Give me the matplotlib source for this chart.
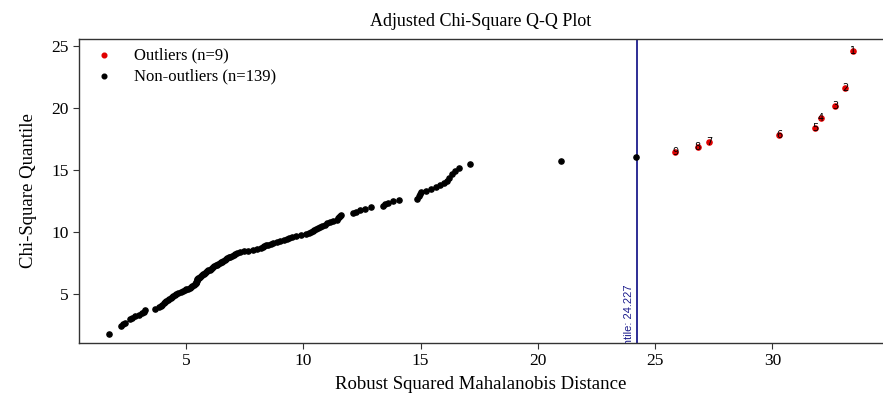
import matplotlib.pyplot as plt
import numpy as np

# robuste Distanz (x) und Chi-Quadrat-Quantil (y)
dist_in = [1.72, 2.25, 2.32, 2.42, 2.62, 2.70, 2.82, 2.99, 3.11, 3.20,
           3.26, 3.70, 3.84, 3.92, 3.99, 4.05, 4.11, 4.16, 4.22, 4.28,
           4.34, 4.39, 4.46, 4.52, 4.58, 4.66, 4.78, 4.88, 4.95, 5.01,
           5.08, 5.15, 5.21, 5.27, 5.33, 5.38, 5.41, 5.43, 5.44, 5.45,
           5.46, 5.47, 5.50, 5.56, 5.61, 5.65, 5.69, 5.73, 5.78, 5.83,
           5.87, 5.91, 5.96, 6.01, 6.06, 6.11, 6.16, 6.21, 6.28, 6.33,
           6.38, 6.43, 6.49, 6.54, 6.59, 6.65, 6.70, 6.77, 6.83, 6.89,
           6.97, 7.04, 7.11, 7.19, 7.31, 7.47, 7.66, 7.86, 8.04, 8.18,
           8.27, 8.34, 8.41, 8.50, 8.62, 8.71, 8.86, 9.01, 9.16, 9.29,
           9.41, 9.53, 9.70, 9.90, 10.10, 10.24, 10.33, 10.41, 10.47, 10.54,
           10.62, 10.70, 10.80, 10.92, 11.02, 11.12, 11.27, 11.43, 11.48, 11.52,
           11.55, 11.60, 12.10, 12.27, 12.40, 12.62, 12.90, 13.38, 13.48, 13.62,
           13.82, 14.10, 14.85, 14.92, 14.97, 15.01, 15.25, 15.46, 15.64, 15.82,
           16.00, 16.12, 16.23, 16.35, 16.46, 16.65, 17.09, 21.00, 24.19]
quant_in = [1.80, 2.40, 2.55, 2.70, 2.95, 3.05, 3.20, 3.33, 3.45, 3.58,
            3.70, 3.82, 3.93, 4.04, 4.15, 4.25, 4.34, 4.43, 4.52, 4.61,
            4.69, 4.77, 4.85, 4.93, 5.01, 5.08, 5.16, 5.23, 5.30, 5.37,
            5.44, 5.51, 5.58, 5.65, 5.72, 5.79, 5.86, 5.92, 5.99, 6.06,
            6.12, 6.19, 6.26, 6.32, 6.39, 6.45, 6.52, 6.58, 6.65, 6.71,
            6.78, 6.84, 6.91, 6.97, 7.04, 7.10, 7.17, 7.23, 7.30, 7.36,
            7.43, 7.49, 7.56, 7.62, 7.69, 7.76, 7.82, 7.89, 7.95, 8.02,
            8.09, 8.15, 8.22, 8.29, 8.36, 8.43, 8.50, 8.57, 8.64, 8.71,
            8.78, 8.85, 8.92, 8.99, 9.06, 9.13, 9.21, 9.28, 9.36, 9.44,
            9.51, 9.59, 9.67, 9.75, 9.83, 9.91, 9.99, 10.07, 10.16, 10.24,
            10.33, 10.42, 10.51, 10.60, 10.70, 10.79, 10.89, 10.99, 11.09, 11.19,
            11.30, 11.41, 11.52, 11.63, 11.75, 11.87, 11.99, 12.10, 12.22, 12.34,
            12.46, 12.58, 12.70, 12.88, 13.05, 13.20, 13.33, 13.45, 13.60, 13.75,
            13.92, 14.10, 14.35, 14.65, 14.95, 15.15, 15.48, 15.75, 16.07]

# Ausreisser mit Rangnummer
dist_out = [25.87, 26.82, 27.32, 30.30, 31.83, 32.07, 32.68, 33.10, 33.45]
quant_out = [16.42, 16.83, 17.28, 17.80, 18.41, 19.17, 20.16, 21.59, 24.62]
labels_out = ['9', '8', '7', '6', '5', '4', '3', '2', '1']

cutoff = 24.227

plt.rcParams['font.family'] = ['Liberation Serif', 'DejaVu Serif']

fig = plt.figure(figsize=(8.83, 4.0), dpi=100)
ax = fig.add_axes([0.0895, 0.1425, 0.9095, 0.76])

ax.scatter(dist_out, quant_out, s=14, color='#e00000', zorder=3,
           label='Outliers (n=%d)' % len(dist_out))
ax.scatter(dist_in, quant_in, s=14, color='black', zorder=3,
           label='Non-outliers (n=%d)' % len(dist_in))
for xx, yy, lab in zip(dist_out, quant_out, labels_out):
    ax.text(xx, yy, lab, fontsize=7, ha='center', va='center', zorder=4,
            family=['DejaVu Sans'])

ax.axvline(cutoff, color='#1c1c8c', lw=1.3, zorder=2)
ax.text(cutoff - 0.12, 5.8, 'Adjusted Quantile: %.3f' % cutoff, rotation=90,
        ha='right', va='top', fontsize=8, color='#1c1c8c',
        family=['Liberation Sans'], clip_on=True)

ax.set_xlim(0.44, 34.68)
ax.set_ylim(1.05, 25.56)
ax.set_xticks([5, 10, 15, 20, 25, 30])
ax.set_yticks([5, 10, 15, 20, 25])
ax.tick_params(labelsize=12.5, length=4, width=0.8, color='#333333')
ax.spines['right'].set_visible(False)
for s in ['left', 'top', 'bottom']:
    ax.spines[s].set_linewidth(1.0)
    ax.spines[s].set_color('#333333')

ax.set_title('Adjusted Chi-Square Q-Q Plot', fontsize=13, pad=9)
ax.set_xlabel('Robust Squared Mahalanobis Distance', fontsize=13.5, labelpad=5)
ax.set_ylabel('Chi-Square Quantile', fontsize=13.5, labelpad=10)

ax.legend(loc='upper left', frameon=False, fontsize=12, handletextpad=0.8,
          borderaxespad=0.1, labelspacing=0.3, markerscale=0.9,
          bbox_to_anchor=(0.0, 1.0))

fig.savefig('out.png', dpi=100)
